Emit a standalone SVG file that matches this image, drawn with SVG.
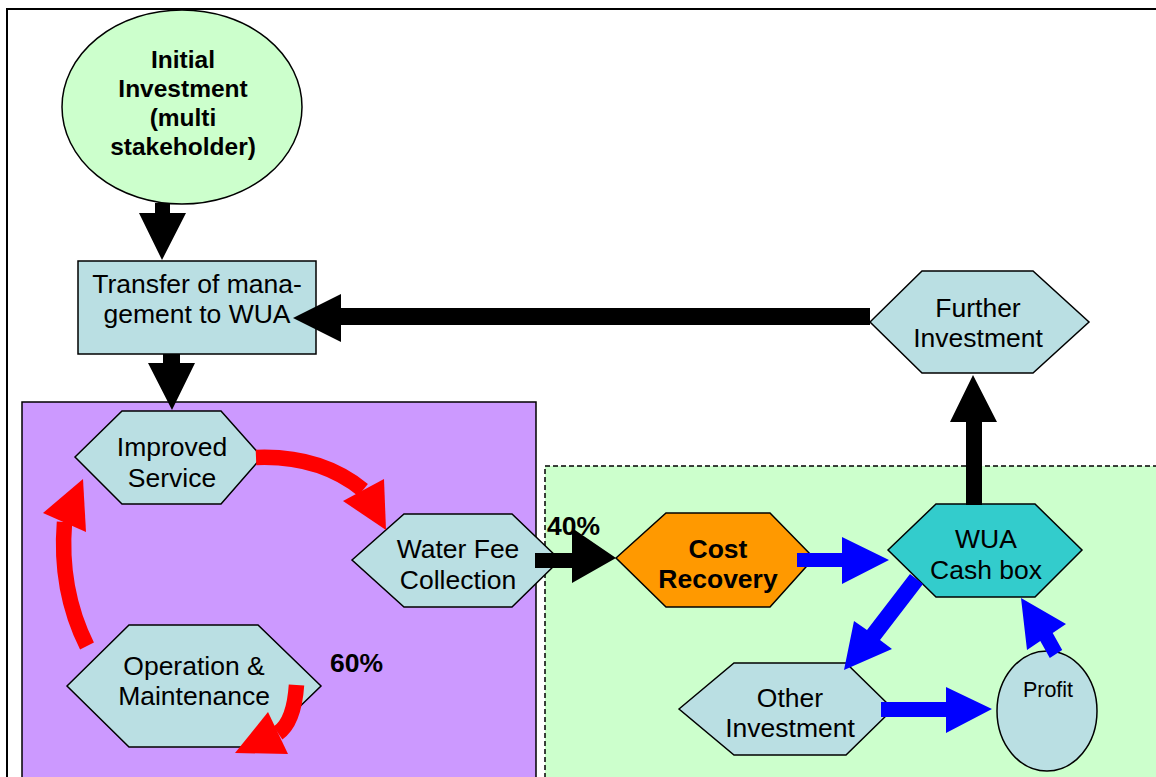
<svg xmlns="http://www.w3.org/2000/svg" width="1156" height="777" viewBox="0 0 1156 777">
<style>
text{font-family:"Liberation Sans",Arial,sans-serif;fill:#000;text-anchor:middle}
.t{font-size:26.5px}
.b{font-size:26.5px;font-weight:bold}
.ib{font-size:24.5px;font-weight:bold}
.sm{font-size:21.5px}
.node{stroke:#000;stroke-width:1.5}
.lb{fill:#badfe3}
.blk{fill:#000}
.blu{fill:#0000ff}
.red{fill:#ff0000}
.rs{fill:none;stroke:#ff0000;stroke-width:15.5}
</style>
<rect x="0" y="0" width="1156" height="777" fill="#fff"/>
<g id="frame">
<path d="M7,777 V9 H1156" fill="none" stroke="#000" stroke-width="2"/>
</g>
<g id="panels">
<rect id="purple-panel" x="22" y="402" width="514" height="380" fill="#cc99ff" stroke="#000" stroke-width="1.5"/>
<rect id="green-panel" x="545" y="466" width="620" height="320" fill="#ccffcc" stroke="#000" stroke-width="1.5" stroke-dasharray="5 3"/>
</g>
<g id="initial-investment">
<ellipse class="node" cx="182" cy="107" rx="120" ry="97" fill="#ccffcc"/>
<text class="ib" x="183" y="68">Initial</text>
<text class="ib" x="183" y="97">Investment</text>
<text class="ib" x="183" y="126">(multi</text>
<text class="ib" x="183" y="155">stakeholder)</text>
</g>
<g id="transfer">
<rect class="node lb" x="78" y="261" width="238" height="93"/>
<text class="t" x="197" y="293">Transfer of mana-</text>
<text class="t" x="197" y="323">gement to WUA</text>
</g>
<g id="further-investment">
<polygon class="node lb" points="870,322 922,271 1033,271 1089,322 1033,373 922,373"/>
<text class="t" x="978" y="317">Further</text>
<text class="t" x="978" y="347">Investment</text>
</g>
<g id="improved-service">
<polygon class="node lb" points="75,457 122,411 221,411 262,457 221,504 122,504"/>
<text class="t" x="172" y="456">Improved</text>
<text class="t" x="172" y="487">Service</text>
</g>
<g id="water-fee">
<polygon class="node lb" points="352,560 404,514 512,514 560,560 512,607 404,607"/>
<text class="t" x="458" y="558">Water Fee</text>
<text class="t" x="458" y="589">Collection</text>
</g>
<g id="operation">
<polygon class="node lb" points="67,686 129,625 258,625 321,686 258,747 129,747"/>
<text class="t" x="194" y="675">Operation &amp;</text>
<text class="t" x="194" y="705">Maintenance</text>
</g>
<g id="cost-recovery">
<polygon class="node" fill="#ff9900" points="616,558 666,513 770,513 814,558 770,607 666,607"/>
<text class="b" x="718" y="558">Cost</text>
<text class="b" x="718" y="588">Recovery</text>
</g>
<g id="wua-cash-box">
<polygon class="node" fill="#33cccc" points="888,550 936,504 1035,504 1082,550 1035,597 936,597"/>
<text class="t" x="986" y="548">WUA</text>
<text class="t" x="986" y="579">Cash box</text>
</g>
<g id="other-investment">
<polygon class="node lb" points="679,709 734,663 846,663 893,709 846,755 734,755"/>
<text class="t" x="790" y="707">Other</text>
<text class="t" x="790" y="737">Investment</text>
</g>
<g id="profit">
<ellipse class="node lb" cx="1047" cy="711" rx="50" ry="60"/>
<text class="sm" x="1048" y="697">Profit</text>
</g>
<g id="labels">
<text class="b" x="330" y="672" style="text-anchor:start">60%</text>
<text class="b" x="547" y="535" style="text-anchor:start">40%</text>
</g>
<g id="connectors">
<polygon class="blk" points="155,203 170,203 170,213 186,213 162,260 139,213 155,213"/>
<polygon class="blk" points="163,354 180,354 180,363 195,363 172,410 148,363 163,363"/>
<polygon class="blk" points="870,308 341,308 341,294 293,318 341,342 341,325 870,325"/>
<polygon class="blk" points="966,505 966,422 950,422 973,375 997,422 982,422 982,505"/>
<polygon class="blk" points="535,553 572,553 572,528 616,558 572,583 572,568 535,568"/>
<polygon class="blu" points="797,553 842,553 842,537 889,560 842,584 842,567 797,567"/>
<polygon class="blu" points="881,702 946,702 946,687 992,709 946,733 946,717 881,717"/>
<path class="blu" d="M910,574 L923,584 L880,640 L892,649 L844,670 L854,621 L867,630 Z"/>
<path class="blu" d="M1062.2,649.9 L1052.7,632.9 L1066,624 L1021,598 L1027,650 L1040.3,641.1 L1049.8,658.1 Z"/>
<path class="rs" d="M256,457.5 Q320,455 363,490"/>
<polygon class="red" points="343,501 384,479 386,530"/>
<path class="rs" d="M87,646 Q59,590 64.5,522"/>
<polygon class="red" points="43,513 83,479 86,532"/>
<path class="rs" d="M296.5,685 Q294,722 278,733"/>
<polygon class="red" points="268,712 288,754 235,753"/>
</g>
</svg>
